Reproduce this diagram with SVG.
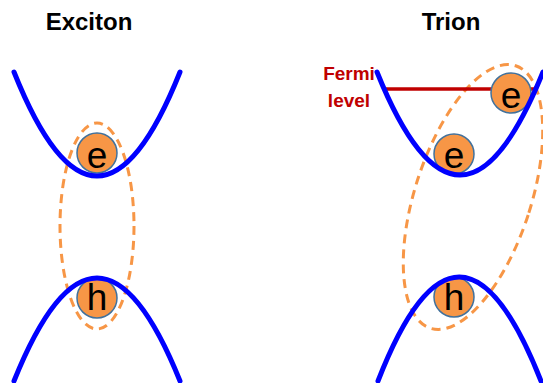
<svg xmlns="http://www.w3.org/2000/svg" width="543" height="383" viewBox="0 0 543 383">
<style>
.title{font-family:"Liberation Sans",Arial,sans-serif;font-weight:bold;font-size:24px;fill:#000;text-anchor:middle}
.fermi{font-family:"Liberation Sans",Arial,sans-serif;font-weight:bold;font-size:19px;fill:#C00000;text-anchor:middle}
.band{fill:none;stroke:#0000FF;stroke-width:5;stroke-linecap:round}
.bound{fill:none;stroke:#F79646;stroke-width:3;stroke-dasharray:9,6}
.particle circle{fill:#F79646;stroke:#41719C;stroke-width:1.5}
.particle text{font-family:"Liberation Sans",Arial,sans-serif;font-size:37px;fill:#000;text-anchor:middle}
</style>
<rect width="543" height="383" fill="#fff"/>
<text class="title" x="89" y="30">Exciton</text>
<text class="title" x="451" y="30">Trion</text>
<g id="fermi-label">
<text class="fermi" x="349" y="80">Fermi</text>
<text class="fermi" x="349" y="107">level</text>
</g>
<g id="connectors">
<ellipse id="exciton-bound" class="bound" cx="97" cy="226" rx="37" ry="103"/>
<ellipse id="trion-bound" class="bound" cx="473" cy="197" rx="58" ry="138" transform="rotate(18 473 197)"/>
<line id="fermi-level" x1="384" y1="89" x2="536" y2="89" stroke="#C00000" stroke-width="3.5"/>
</g>
<g id="exciton-e" class="particle"><circle cx="97" cy="153" r="20"/><text x="97" y="168">e</text></g>
<g id="exciton-h" class="particle"><circle cx="97" cy="298" r="20"/><text x="97" y="310">h</text></g>
<g id="trion-e1" class="particle"><circle cx="454" cy="154" r="20"/><text x="454" y="168">e</text></g>
<g id="trion-e2" class="particle"><circle cx="511" cy="93" r="20"/><text x="511" y="108">e</text></g>
<g id="trion-h" class="particle"><circle cx="454" cy="297" r="20"/><text x="454" y="310">h</text></g>
<g id="exciton-cb"><path class="band" d="M14,72 Q97,280 180,72"/></g>
<g id="exciton-vb"><path class="band" d="M14,381 Q97,175 180,381"/></g>
<g id="trion-cb"><path class="band" d="M377,72 Q460,278 543,72"/></g>
<g id="trion-vb"><path class="band" d="M378,381 Q459,173 541,381"/></g>
</svg>
